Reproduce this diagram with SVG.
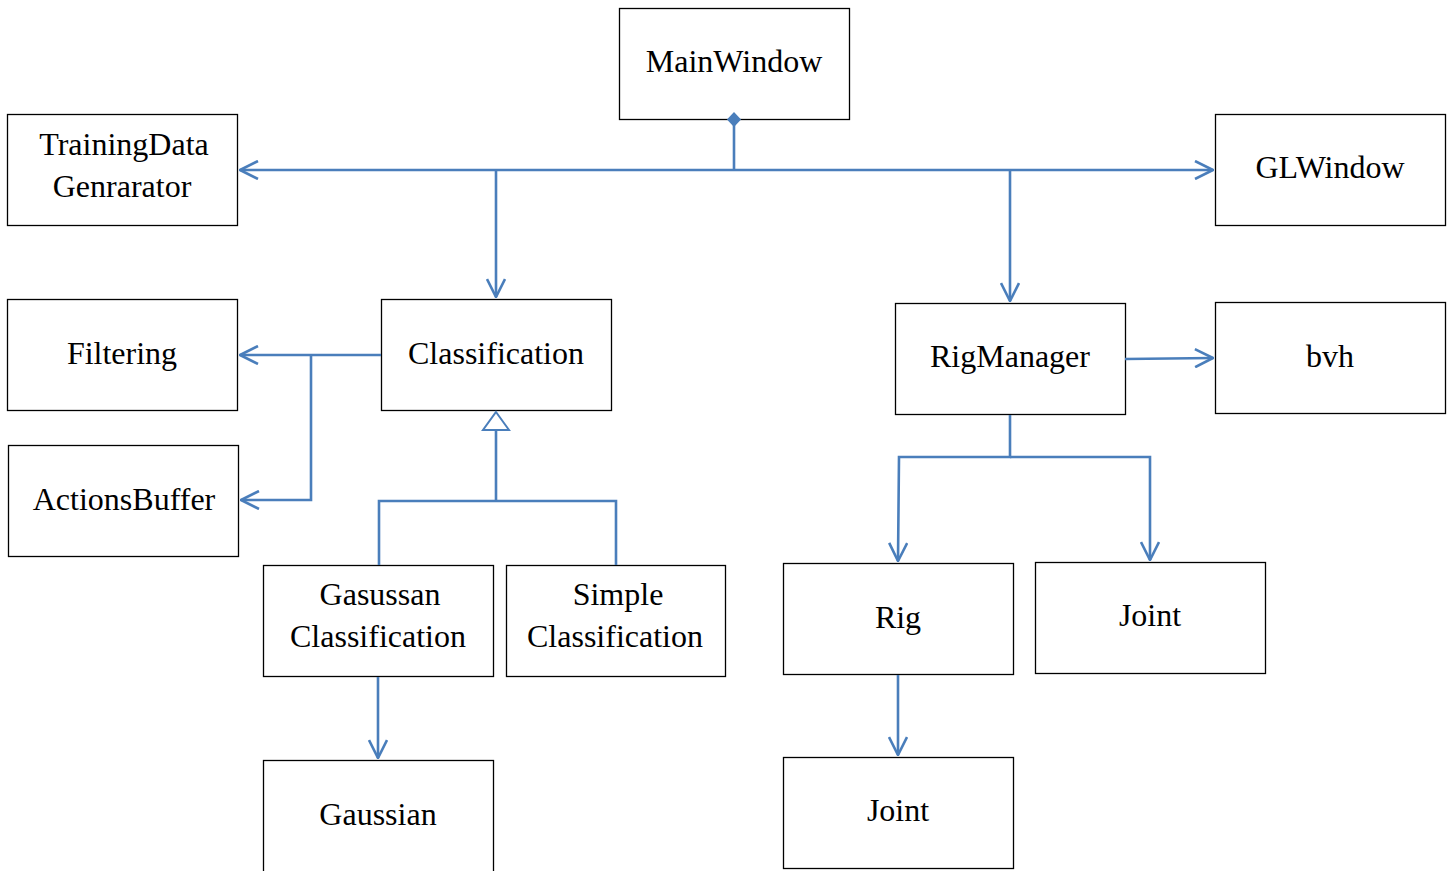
<svg xmlns="http://www.w3.org/2000/svg" width="1452" height="871" viewBox="0 0 1452 871">
  <style>
    .box { fill: #ffffff; stroke: #000000; stroke-width: 1.3; }
    .lbl { font-family: "Liberation Serif", "Times New Roman", serif; font-size: 32px; fill: #000000; text-anchor: middle; }
    .wire { fill: none; stroke: #4a7ebb; stroke-width: 2.6; }
  </style>
  <defs>
    <marker id="open" viewBox="0 0 20 20" refX="19" refY="10" markerWidth="20" markerHeight="20" markerUnits="userSpaceOnUse" orient="auto">
      <path d="M1,1 L19,10 L1,19" fill="none" stroke="#4a7ebb" stroke-width="2.6"/>
    </marker>
  </defs>

  <rect width="1452" height="871" fill="#ffffff"/>

  <g id="mainwindow">
    <rect class="box" x="619.5" y="8.5" width="230" height="111"/>
    <text class="lbl" x="734" y="72">MainWindow</text>
  </g>
  <g id="trainingdata">
    <rect class="box" x="7.5" y="114.5" width="230" height="111"/>
    <text class="lbl" x="124" y="155">TrainingData</text>
    <text class="lbl" x="122" y="197">Genrarator</text>
  </g>
  <g id="glwindow">
    <rect class="box" x="1215.5" y="114.5" width="230" height="111"/>
    <text class="lbl" x="1330" y="178">GLWindow</text>
  </g>
  <g id="filtering">
    <rect class="box" x="7.5" y="299.5" width="230" height="111"/>
    <text class="lbl" x="122" y="364">Filtering</text>
  </g>
  <g id="classification">
    <rect class="box" x="381.5" y="299.5" width="230" height="111"/>
    <text class="lbl" x="496" y="364">Classification</text>
  </g>
  <g id="actionsbuffer">
    <rect class="box" x="8.5" y="445.5" width="230" height="111"/>
    <text class="lbl" x="124" y="510">ActionsBuffer</text>
  </g>
  <g id="rigmanager">
    <rect class="box" x="895.5" y="303.5" width="230" height="111"/>
    <text class="lbl" x="1010" y="367">RigManager</text>
  </g>
  <g id="bvh">
    <rect class="box" x="1215.5" y="302.5" width="230" height="111"/>
    <text class="lbl" x="1330" y="367">bvh</text>
  </g>
  <g id="gaussian-classification">
    <rect class="box" x="263.5" y="565.5" width="230" height="111"/>
    <text class="lbl" x="380" y="605">Gasussan</text>
    <text class="lbl" x="378" y="647">Classification</text>
  </g>
  <g id="simple-classification">
    <rect class="box" x="506.5" y="565.5" width="219" height="111"/>
    <text class="lbl" x="618" y="605">Simple</text>
    <text class="lbl" x="615" y="647">Classification</text>
  </g>
  <g id="rig">
    <rect class="box" x="783.5" y="563.5" width="230" height="111"/>
    <text class="lbl" x="898" y="628">Rig</text>
  </g>
  <g id="joint-a">
    <rect class="box" x="1035.5" y="562.5" width="230" height="111"/>
    <text class="lbl" x="1150" y="626">Joint</text>
  </g>
  <g id="gaussian">
    <rect class="box" x="263.5" y="760.5" width="230" height="130"/>
    <text class="lbl" x="378" y="825">Gaussian</text>
  </g>
  <g id="joint-b">
    <rect class="box" x="783.5" y="757.5" width="230" height="111"/>
    <text class="lbl" x="898" y="821">Joint</text>
  </g>

  <g id="connectors">
    <!-- MainWindow composition bus -->
    <line class="wire" x1="734" y1="124" x2="734" y2="170"/>
    <path d="M734,112 L741,119.5 L734,127 L727,119.5 Z" fill="#4a7ebb"/>
    <line class="wire" x1="734" y1="170" x2="240" y2="170" marker-end="url(#open)"/>
    <line class="wire" x1="734" y1="170" x2="1213" y2="170" marker-end="url(#open)"/>
    <line class="wire" x1="496" y1="170" x2="496" y2="297" marker-end="url(#open)"/>
    <line class="wire" x1="1010" y1="170" x2="1010" y2="301" marker-end="url(#open)"/>

    <!-- Classification to Filtering / ActionsBuffer -->
    <line class="wire" x1="381" y1="355" x2="240" y2="355" marker-end="url(#open)"/>
    <polyline class="wire" points="311,355 311,500 241,500" marker-end="url(#open)"/>

    <!-- Inheritance into Classification -->
    <polyline class="wire" points="379,565 379,501 616,501 616,565"/>
    <line class="wire" x1="496" y1="501" x2="496" y2="431"/>
    <path d="M496,412 L509,430 L483,430 Z" fill="#ffffff" stroke="#4a7ebb" stroke-width="2"/>

    <line class="wire" x1="378" y1="677" x2="378" y2="758" marker-end="url(#open)"/>

    <!-- RigManager -->
    <line class="wire" x1="1125" y1="359" x2="1213" y2="358" marker-end="url(#open)"/>
    <polyline class="wire" points="1010,415 1010,457 899,457 898,561" marker-end="url(#open)"/>
    <polyline class="wire" points="1010,457 1150,457 1150,560" marker-end="url(#open)"/>
    <line class="wire" x1="898" y1="675" x2="898" y2="755" marker-end="url(#open)"/>
  </g>
</svg>
